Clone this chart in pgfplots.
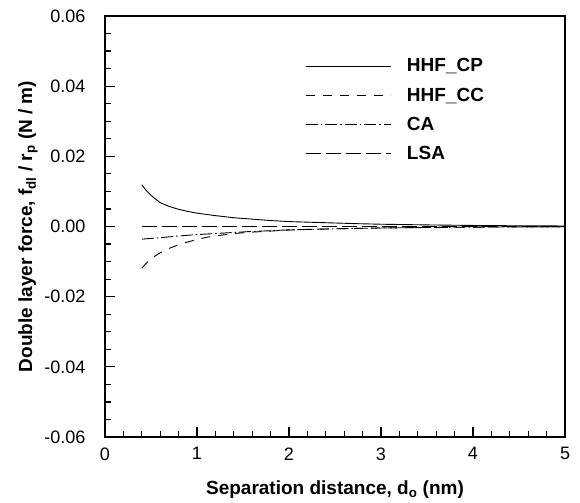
\documentclass[border=0pt]{standalone}
\usepackage{pgfplots}
\pgfplotsset{compat=1.18}
\usepackage{fontspec}
\setmainfont{Liberation Sans}

\begin{document}
\begin{tikzpicture}
\begin{axis}[
    scale only axis,
    width=460pt, height=421pt,
    xmin=0, xmax=5, ymin=-0.06, ymax=0.06,
    xtick={0,1,2,3,4,5},
    ytick={-0.06,-0.04,-0.02,0,0.02,0.04,0.06},
    minor x tick num=4,
    minor y tick num=3,
    tick pos=left,
    tick align=inside,
    major tick length=10pt,
    minor tick length=6pt,
    every tick/.style={black, line width=1.2pt},
    axis line style={line width=2.5pt},
    /pgf/number format/assume math mode=true,
    /pgf/number format/.cd, fixed, fixed zerofill, precision=2, /pgfplots/.cd,
    xticklabel={\pgfmathprintnumber[precision=0]{\tick}},
    scaled y ticks=false,
    ticklabel style={font=\fontsize{18}{21}\selectfont},
    yticklabel style={xshift=-16pt},
    xticklabel style={yshift=-7pt},
    xlabel={\textbf{Separation distance, d\textsubscript{o} (nm)}},
    ylabel={\textbf{Double layer force, f\textsubscript{dl} / r\textsubscript{p} (N / m)}},
    label style={font=\fontsize{19}{22}\selectfont},
    xlabel style={yshift=-14pt},
    legend style={draw=none, fill=none, at={(0.428,0.9085)}, anchor=north west,
        font=\fontsize{19}{22}\selectfont\bfseries, row sep=10.5pt,
        /tikz/every odd column/.append style={column sep=14pt}},
    legend cell align=left,
    legend image code/.code={\draw[#1] (0pt,0pt) -- (85pt,0pt);},
]
% HHF_CP
\addplot[black, line width=0.9pt, solid] coordinates {
(0.4,0.0119) (0.45,0.0102) (0.5,0.0089) (0.55,0.0078) (0.6,0.0068)
(0.7,0.0057) (0.8,0.0049) (0.9,0.0043) (1.0,0.0038) (1.2,0.0031)
(1.4,0.0025) (1.6,0.0021) (1.8,0.0017) (2.0,0.0014) (2.25,0.0012)
(2.5,0.0010) (2.75,0.0008) (3.0,0.00065) (3.5,0.00045) (4.0,0.0003)
(4.5,0.0002) (5.0,0.00015)
};
% HHF_CC
\addplot[black, line width=0.9pt, dash pattern=on 9pt off 8pt] coordinates {
(0.4,-0.0119) (0.45,-0.0104) (0.5,-0.0093) (0.55,-0.0083) (0.6,-0.0075)
(0.7,-0.0062) (0.8,-0.0052) (0.9,-0.0044) (1.0,-0.0037) (1.1,-0.0031)
(1.2,-0.0027) (1.4,-0.0020) (1.6,-0.0016) (1.8,-0.0013) (2.0,-0.0010)
(2.25,-0.0008) (2.5,-0.00065) (3.0,-0.00042) (3.5,-0.00028) (4.0,-0.00018)
(4.5,-0.00012) (5.0,-0.00008)
};
% CA
\addplot[black, line width=0.9pt, dash pattern=on 12pt off 3pt on 1.5pt off 3pt] coordinates {
(0.4,-0.0036) (0.6,-0.0032) (0.8,-0.0027) (1.0,-0.0023) (1.2,-0.0020)
(1.4,-0.0017) (1.6,-0.0014) (1.8,-0.0012) (2.0,-0.00095) (2.25,-0.0008)
(2.5,-0.00065) (3.0,-0.00042) (3.5,-0.00028) (4.0,-0.00018) (4.5,-0.00012)
(5.0,-0.00008)
};
% LSA
\addplot[black, line width=0.9pt, dash pattern=on 15pt off 5pt] coordinates {
(0.4,0) (1,0) (2,0) (3,0) (4,0) (5,0)
};
\legend{HHF\_CP, HHF\_CC, CA, LSA}
\end{axis}
% white margins as in the reference
\path (current axis.south west) ++(-105pt,-63pt);
\path (current axis.north east) ++(15pt,16pt);
\end{tikzpicture}
\end{document}
